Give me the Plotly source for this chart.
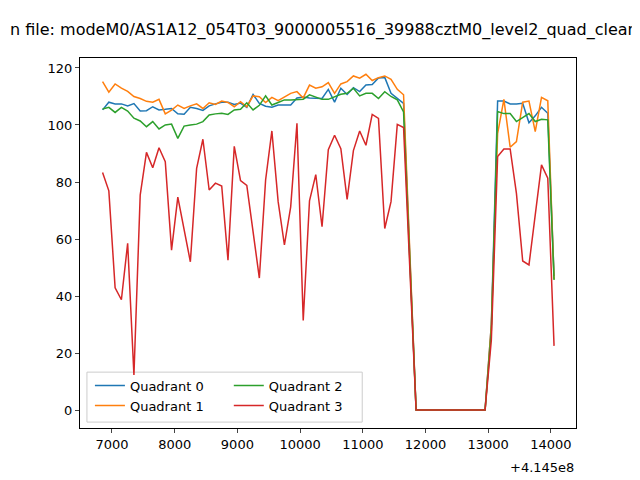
import plotly.graph_objects as go

OFFSET = 4.145e8

q0_a = [105.3,108.0,107.4,107.4,106.7,107.5,104.9,105.0,106.4,105.3,105.5,105.8,103.9,103.8,106.2,105.8,105.1,106.7,107.4,108.0,108.0,107.2,107.7,106.2,110.7,107.6,106.6,106.2,107.0,107.0,107.0,109.5,109.8,109.5,109.3,109.3,112.5,108.0,112.9,110.7,113.1,111.7,114.0,114.2,116.5,116.7,111.1,109.5,107.6]
q1_a = [115.2,111.5,114.4,112.9,111.8,110.0,109.3,108.3,108.0,109.0,103.9,105.2,107.0,105.8,106.7,107.4,105.8,107.8,107.2,108.4,107.9,106.4,108.2,106.4,110.2,109.9,107.9,109.7,108.5,109.7,111.1,111.7,109.5,114.0,112.9,113.4,114.9,111.1,114.4,115.2,117.2,116.4,117.8,115.6,116.6,117.2,116.0,112.5,110.6]
q2_a = [105.6,106.2,104.4,106.2,104.9,102.4,101.4,99.4,101.2,98.6,100.0,100.3,95.3,99.6,100.0,100.3,101.2,103.5,103.9,104.1,103.7,105.3,105.5,107.8,105.3,106.9,110.2,107.0,107.9,108.8,108.8,109.0,109.0,110.6,109.8,109.0,109.0,110.0,110.8,111.1,112.9,110.2,111.1,111.1,109.3,111.7,110.0,108.8,104.6]
q3_a = [83.3,76.9,42.9,38.7,58.5,12.3,75.4,90.4,85.0,92.0,87.1,56.1,74.7,63.2,52.0,84.8,95.0,77.2,79.6,78.6,52.6,92.5,80.5,78.8,62.6,46.3,80.7,97.9,73.1,57.9,71.3,100.6,31.4,73.4,82.6,64.3,91.3,96.4,91.7,73.9,91.0,97.9,92.9,103.7,102.3,63.7,73.1,100.2,99.1]
gap = [0.0] * 12
q0_b = [30.0,108.4,108.4,107.4,107.4,107.6,100.8,103.2,106.2,104.1,47.0]
q1_b = [30.0,97.0,109.0,92.2,94.2,108.0,108.4,97.7,109.7,108.5,46.0]
q2_b = [28.0,104.7,104.0,104.0,101.2,102.7,104.0,101.2,102.0,101.8,45.6]
q3_b = [24.6,88.9,91.6,91.6,76.0,52.3,50.9,68.4,86.0,81.3,22.5]

t_off = [6850 + 100 * i for i in range(49)] + [11850 + 100 * i for i in range(12)] + [13050 + 100 * i for i in range(11)]
series = {
    "Quadrant 0": (q0_a + gap + q0_b, "#1f77b4", "legend"),
    "Quadrant 1": (q1_a + gap + q1_b, "#ff7f0e", "legend"),
    "Quadrant 2": (q2_a + gap + q2_b, "#2ca02c", "legend2"),
    "Quadrant 3": (q3_a + gap + q3_b, "#d62728", "legend2"),
}
xticks = [7000, 8000, 9000, 10000, 11000, 12000, 13000, 14000]

fig = go.Figure()
x = [OFFSET + v for v in t_off]
for name, (y, c, lg) in series.items():
    fig.add_trace(go.Scatter(x=x, y=y, mode="lines", name=name, line=dict(color=c, width=1.5), legend=lg))

fig.update_layout(
    width=640, height=480, template="none", plot_bgcolor="white", paper_bgcolor="white",
    margin=dict(l=72, r=72, t=50, b=60, autoexpand=False),
    font=dict(family="DejaVu Sans", size=13, color="black"),
    xaxis=dict(range=[OFFSET + 6490, OFFSET + 14400], tickvals=[OFFSET + v for v in xticks],
               ticktext=[str(v) for v in xticks], showgrid=False, zeroline=False, showline=True,
               linecolor="black", mirror=True, ticks="outside", ticklen=4, automargin=False),
    yaxis=dict(range=[-6.3, 123.5], tickvals=[0, 20, 40, 60, 80, 100, 120], showgrid=False, zeroline=False,
               showline=True, linecolor="black", mirror=True, ticks="outside", ticklen=4, automargin=False),
    legend=dict(x=0.02, y=0.02, xanchor="left", yanchor="bottom", bgcolor="rgba(0,0,0,0)", font=dict(size=13)),
    legend2=dict(x=0.3, y=0.02, xanchor="left", yanchor="bottom", bgcolor="rgba(0,0,0,0)", font=dict(size=13)),
    shapes=[dict(type="rect", xref="paper", yref="paper", x0=0.014, x1=0.569, y0=0.016, y1=0.151,
                 line=dict(color="#cccccc", width=1), fillcolor="rgba(255,255,255,0.8)", layer="below")],
    annotations=[
        dict(text="+4.145e8", xref="paper", yref="paper", x=1.0, y=-0.08, xanchor="right", yanchor="top",
             showarrow=False, font=dict(size=13)),
        dict(text="n file: modeM0/AS1A12_054T03_9000005516_39988cztM0_level2_quad_clean.lc",
             xref="paper", yref="paper", x=-0.145, y=1.076, xanchor="left", yanchor="middle",
             showarrow=False, font=dict(size=16)),
    ],
)
fig.write_html("out.html")
